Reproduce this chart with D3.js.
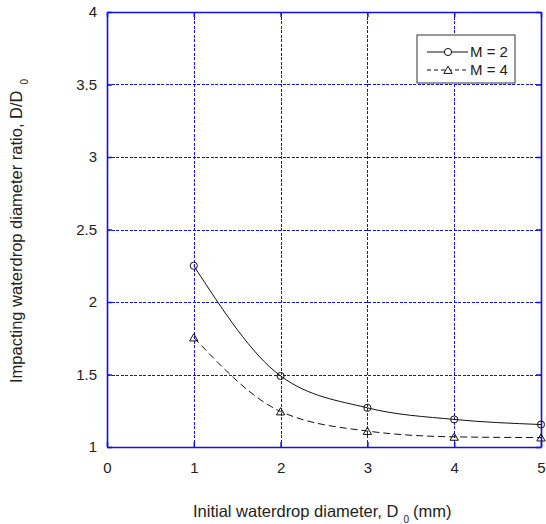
<!DOCTYPE html>
<html>
<head>
<meta charset="utf-8">
<script src="https://cdn.jsdelivr.net/npm/d3@7"></script>
<style>
  body { margin: 0; background: #fff; }
  svg { display: block; font-family: "Liberation Sans", Arial, sans-serif; }
</style>
</head>
<body>
<svg id="chart" width="546" height="524"></svg>
<script>
// data
var diameters = [1, 2, 3, 4, 5];
var ratioM2 = [2.25, 1.49, 1.27, 1.19, 1.155];
var ratioM4 = [1.755, 1.245, 1.11, 1.07, 1.065];
var xTicks = [0, 1, 2, 3, 4, 5];
var yTicks = [1, 1.5, 2, 2.5, 3, 3.5, 4];
var seriesNames = ["M = 2", "M = 4"];

var svg = d3.select('#chart');
// plot box (note: "top" is taken by window.top)
var pLeft = 107, pRight = 541, pTop = 12, pBottom = 447;

var x = d3.scaleLinear().domain([0, 5]).range([pLeft, pRight]);
var y = d3.scaleLinear().domain([1, 4]).range([pBottom, pTop]);

var blue = '#1010e8';

// grid
var g = svg.append('g').style('shape-rendering', 'crispEdges');
g.selectAll('.gx')
  .data(xTicks.slice(1, -1))
  .enter().append('line')
  .attr('x1', function (d) { return Math.round(x(d)) + 0.5; })
  .attr('x2', function (d) { return Math.round(x(d)) + 0.5; })
  .attr('y1', pTop).attr('y2', pBottom)
  .style('stroke', blue).style('stroke-dasharray', '3,1.5').style('stroke-width', 1);
g.selectAll('.gy')
  .data(yTicks.slice(1, -1))
  .enter().append('line')
  .attr('x1', pLeft).attr('x2', pRight)
  .attr('y1', function (d) { return Math.round(y(d)) + 0.5; })
  .attr('y2', function (d) { return Math.round(y(d)) + 0.5; })
  .style('stroke', blue).style('stroke-dasharray', '3,1.5').style('stroke-width', 1);

// axes (ticks point inwards)
var fmt = function (d) { return d3.format('')(d); };
svg.append('g')
  .attr('transform', 'translate(0,' + pBottom + ')')
  .call(d3.axisBottom(x).tickValues(xTicks).tickFormat(fmt).tickSizeInner(-5).tickSizeOuter(0).tickPadding(15));
svg.append('g')
  .attr('transform', 'translate(' + pLeft + ',0)')
  .call(d3.axisLeft(y).tickValues(yTicks).tickFormat(fmt).tickSizeInner(-5).tickSizeOuter(0).tickPadding(10));
svg.append('g')
  .attr('transform', 'translate(0,' + pTop + ')')
  .call(d3.axisTop(x).tickValues(xTicks).tickFormat('').tickSizeInner(-5).tickSizeOuter(0));
svg.append('g')
  .attr('transform', 'translate(' + pRight + ',0)')
  .call(d3.axisRight(y).tickValues(yTicks).tickFormat('').tickSizeInner(-5).tickSizeOuter(0));

svg.selectAll('.domain').style('stroke', blue).style('stroke-width', 1.6);
svg.selectAll('.tick line').style('stroke', blue).style('stroke-width', 1.5);
svg.selectAll('.tick text').style('font-size', '15px').style('fill', '#222')
  .style('font-family', '"Liberation Sans", Arial, sans-serif');

// curves
var line = d3.line()
  .x(function (d, i) { return x(diameters[i]); })
  .y(function (d) { return y(d); })
  .curve(d3.curveMonotoneX);

svg.append('path').attr('d', line(ratioM2))
  .style('fill', 'none').style('stroke', '#111').style('stroke-width', 1);
svg.append('path').attr('d', line(ratioM4))
  .style('fill', 'none').style('stroke', '#111').style('stroke-width', 1)
  .style('stroke-dasharray', '7,4');

var circleSym = d3.symbol().type(d3.symbolCircle).size(40);
var triSym = d3.symbol().type(d3.symbolTriangle).size(30);

svg.selectAll('.m2')
  .data(ratioM2)
  .enter().append('path')
  .attr('d', circleSym)
  .attr('transform', function (d, i) { return 'translate(' + x(diameters[i]) + ',' + y(d) + ')'; })
  .style('fill', 'none').style('stroke', '#111').style('stroke-width', 1);
svg.selectAll('.m4')
  .data(ratioM4)
  .enter().append('path')
  .attr('d', triSym)
  .attr('transform', function (d, i) { return 'translate(' + x(diameters[i]) + ',' + (y(d) + 1) + ')'; })
  .style('fill', 'none').style('stroke', '#111').style('stroke-width', 1);

// legend
var lg = svg.append('g');
lg.append('rect').attr('x', 417).attr('y', 35).attr('width', 98).attr('height', 48)
  .style('fill', '#fff').style('stroke', '#333').style('stroke-width', 1);
seriesNames.forEach(function (name, i) {
  var ly = 52 + i * 18;
  lg.append('line').attr('x1', 427).attr('x2', 468).attr('y1', ly).attr('y2', ly)
    .style('stroke', '#111').style('stroke-width', 1)
    .style('stroke-dasharray', i ? '4,3' : null);
  lg.append('path').attr('d', i ? triSym : circleSym)
    .attr('transform', 'translate(448,' + (ly + (i ? 1 : 0)) + ')')
    .style('fill', '#fff').style('stroke', '#111');
  lg.append('text').attr('x', 470).attr('y', ly + 5).text(name)
    .style('font-size', '15px').style('fill', '#222');
});

// axis titles
var xt = svg.append('text').attr('x', 193).attr('y', 517)
  .style('font-size', '16.5px').style('fill', '#222');
xt.append('tspan').text('Initial waterdrop diameter, D');
xt.append('tspan').attr('dx', 5).attr('dy', 6).style('font-size', '10px').text('0');
xt.append('tspan').attr('dx', 4).attr('dy', -6).text('(mm)');

var yt = svg.append('text')
  .attr('transform', 'translate(22,383) rotate(-90)')
  .style('font-size', '16.5px').style('fill', '#222');
yt.append('tspan').text('Impacting waterdrop diameter ratio, D/D');
yt.append('tspan').attr('dx', 6).attr('dy', 6).style('font-size', '10px').text('0');
</script>
</body>
</html>
